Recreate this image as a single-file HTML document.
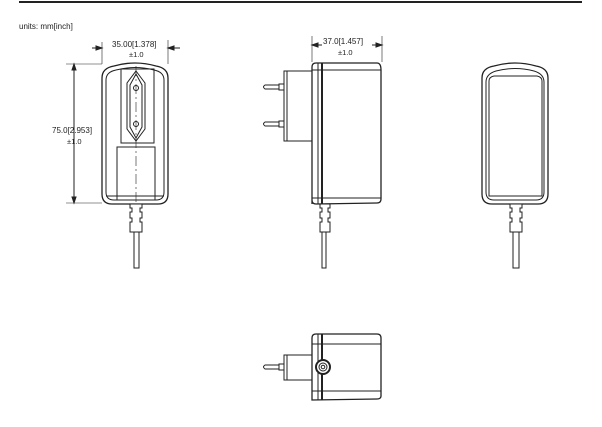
<!DOCTYPE html><html><head><style>body{margin:0;background:#fff}svg{display:block}text{font-family:"Liberation Sans",sans-serif;fill:#222}</style></head><body>
<svg width="602" height="427" viewBox="0 0 602 427" fill="none" stroke="#222" stroke-width="1">
<line x1="19" y1="2" x2="582" y2="2" stroke-width="2"/>
<text x="19" y="29" font-size="8" stroke="none">units: mm[inch]</text>
<!-- front -->
<path d="M112 204 Q102 204 102 194 V78 Q102 68 114 66 Q135 60 156 66 Q168 68 168 78 V194 Q168 204 158 204 Z" stroke-width="1.3"/>
<path d="M114 200 Q106 200 106 192 V80 Q106 72 116 70 Q135 65 154 70 Q164 72 164 80 V192 Q164 200 156 200 Z"/>
<rect x="121" y="69" width="33" height="74"/>
<path d="M136 71 L145 83 V129 L136 141 L127 129 V83 Z M136 74 L142 85 V127 L136 138 L130 127 V85 Z"/>
<circle cx="136" cy="88" r="2.5"/><circle cx="136" cy="124" r="2.5"/>
<rect x="117" y="147" width="38" height="53"/>
<line x1="136" y1="66" x2="136" y2="204" stroke-dasharray="10 3 2 3" stroke-width="0.6"/>
<line x1="106" y1="196" x2="164" y2="196"/>
<path d="M130 204 h12 v4 h-2 v4 h2 v6 h-2 v4 h2 v10 h-12 v-10 h2 v-4 h-2 v-6 h2 v-4 h-2 z" fill="#fff"/>
<rect x="134" y="232" width="5" height="36"/>
<line x1="102" y1="42" x2="102" y2="64" stroke-width="0.6"/><line x1="168" y1="40" x2="168" y2="64" stroke-width="0.6"/>
<line x1="92" y1="48" x2="102" y2="48"/><line x1="168" y1="48" x2="180" y2="48"/>
<path d="M102 48 l-6 -2 v4 z M168 48 l6 -2 v4 z" fill="#222"/>
<text x="112" y="47" font-size="8" stroke="none">35.00[1.378]</text>
<text x="129" y="57" font-size="7.5" stroke="none">±1.0</text>
<line x1="66" y1="64" x2="102" y2="64" stroke-width="0.6"/><line x1="66" y1="203" x2="102" y2="203" stroke-width="0.6"/>
<line x1="74" y1="64" x2="74" y2="203"/>
<path d="M74 64 l-2 6 h4 z M74 203 l-2 -6 h4 z" fill="#222"/>
<text x="52" y="133" font-size="8" stroke="none">75.0[2.953]</text>
<text x="67" y="144" font-size="7.5" stroke="none">±1.0</text>
<!-- side -->
<path d="M312 204 V67 Q312 63 316 63 H377 Q381 63 381 70 V199 Q381 203 377 203 L316 204 Q312 204 312 200 Z" stroke-width="1.3"/>
<line x1="318" y1="63" x2="318" y2="204"/><line x1="322" y1="63" x2="322" y2="204" stroke-width="2"/>
<line x1="312" y1="70" x2="381" y2="70"/><line x1="312" y1="198" x2="381" y2="198"/>
<path d="M312 71 H284 V141 H312 M287 71 V141"/>
<path d="M284 84 h-5 v6 h5 M279 85 h-14 q-3 2 0 4 h14 M284 121 h-5 v6 h5 M279 122 h-14 q-3 2 0 4 h14"/>
<path d="M320 204 h10 v4 h-2 v4 h2 v6 h-2 v4 h2 v10 h-10 v-10 h2 v-4 h-2 v-6 h2 v-4 h-2 z" fill="#fff"/>
<rect x="322" y="232" width="4" height="36"/>
<line x1="312" y1="36" x2="312" y2="62" stroke-width="0.6"/><line x1="382" y1="36" x2="382" y2="62" stroke-width="0.6"/>
<line x1="312" y1="45" x2="322" y2="45"/><line x1="372" y1="45" x2="382" y2="45"/>
<path d="M312 45 l6 -2 v4 z M382 45 l-6 -2 v4 z" fill="#222"/>
<text x="323" y="44" font-size="8" stroke="none">37.0[1.457]</text>
<text x="338" y="55" font-size="7.5" stroke="none">±1.0</text>
<!-- right -->
<path d="M492 204 Q482 204 482 194 V78 Q482 68 494 66 Q515 60 536 66 Q548 68 548 78 V194 Q548 204 538 204 Z" stroke-width="1.3"/>
<path d="M494 200 Q486 200 486 192 V82 Q486 74 496 71 Q515 66 534 71 Q544 74 544 82 V192 Q544 200 536 200 Z"/>
<path d="M489 196 V81 Q489 77 494 76 H537 Q542 77 542 81 V196 Z"/>
<path d="M510 204 h12 v4 h-2 v4 h2 v6 h-2 v4 h2 v10 h-12 v-10 h2 v-4 h-2 v-6 h2 v-4 h-2 z" fill="#fff"/>
<rect x="513" y="232" width="6" height="36"/>
<!-- bottom -->
<path d="M312 400 V338 Q312 334 316 334 H377 Q381 334 381 338 V396 Q381 399 377 399 Z" stroke-width="1.3"/>
<line x1="318" y1="334" x2="318" y2="400"/><line x1="322" y1="334" x2="322" y2="400" stroke-width="2"/>
<line x1="312" y1="344" x2="381" y2="344"/><line x1="312" y1="391" x2="381" y2="391"/>
<path d="M312 355 H284 V380 H312 M287 355 V380"/>
<path d="M284 364 h-5 v6 h5 M279 365 h-14 q-3 2 0 4 h14"/>
<circle cx="323" cy="367" r="7" fill="#fff" stroke-width="2"/><circle cx="323" cy="367" r="4"/><circle cx="323" cy="367" r="1.8"/>
</svg></body></html>
